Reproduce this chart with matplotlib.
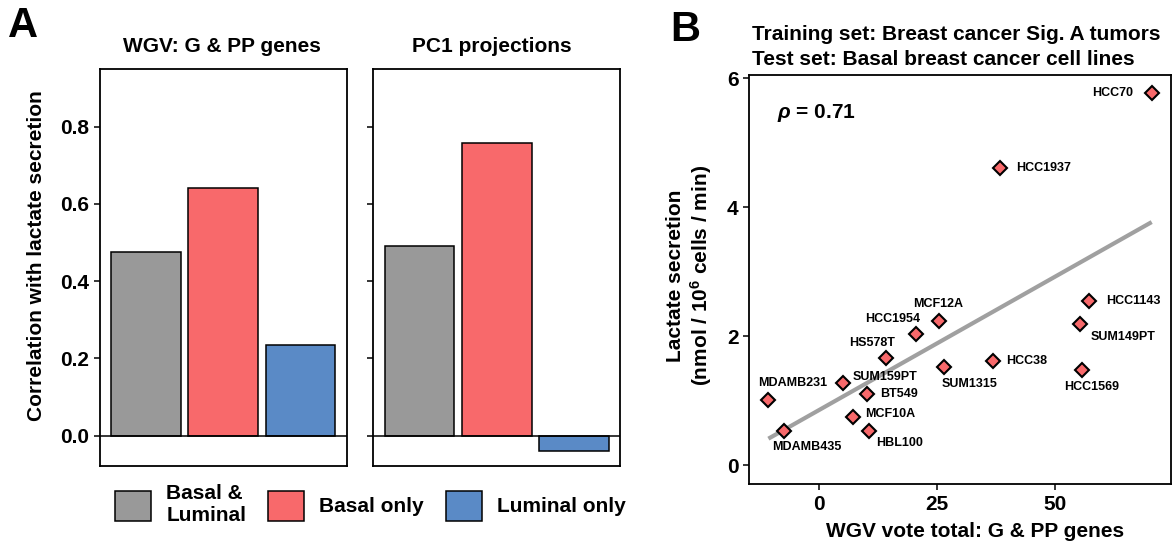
import numpy as np
import matplotlib
matplotlib.use("Agg")
import matplotlib.pyplot as plt
from matplotlib.patches import Patch

# ─── Data ─────────────────────────────────────────────────────────────────────

groups       = ["Basal &\nLuminal", "Basal only", "Luminal only"]
group_colors = ["#999999", "#F8696B", "#5A8AC6"]
wgv_corr     = [0.475, 0.642, 0.235]
pc1_corr     = [0.492, 0.758, -0.040]

cell_lines = ["HCC70", "HCC1937", "HCC1143", "SUM149PT", "HCC1569", "HCC38",
              "SUM1315", "MCF12A", "HCC1954", "HS578T", "SUM159PT", "BT549",
              "MCF10A", "HBL100", "MDAMB231", "MDAMB435"]
vote_total = [70.4, 38.3, 57.1, 55.3, 55.6, 36.8,
              26.4, 25.4, 20.5, 14.2, 5.1, 10.1,
              7.2, 10.6, -10.7, -7.4]
lactate    = [5.765, 4.61, 2.55, 2.19, 1.477, 1.61,
              1.52, 2.24, 2.035, 1.66, 1.27, 1.105,
              0.744, 0.536, 1.012, 0.536]
rho_text = r"$\rho$ = 0.71"

# label offsets in pixels (dx, dy, ha)
label_offsets = [(-19, 0, "right"), (16, 0, "left"), (17, 0, "left"), (10, -13, "left"),
                 (10, -17, "center"), (13, 0, "left"), (26, -17, "center"), (-1, 17, "center"),
                 (4, 15, "right"), (-14, 15, "center"), (10, 6, "left"), (13, 0, "left"),
                 (12, 3, "left"), (7, -12, "left"), (24, 17, "center"), (23, -16, "center")]

# ─── Style ────────────────────────────────────────────────────────────────────

plt.rcParams["font.family"] = ["Liberation Sans", "DejaVu Sans"]
plt.rcParams["font.weight"] = "bold"
plt.rcParams["mathtext.fontset"] = "custom"
plt.rcParams["mathtext.rm"] = "Liberation Sans:bold"
plt.rcParams["mathtext.it"] = "Liberation Sans:italic:bold"
plt.rcParams["mathtext.bf"] = "Liberation Sans:bold"

FS = 15
LW = 1.1

fig = plt.figure(figsize=(11.74, 5.45), dpi=100)

axA1 = fig.add_axes([0.0848, 0.1444, 0.2105, 0.7283])
axA2 = fig.add_axes([0.3177, 0.1444, 0.2108, 0.7283])
axB  = fig.add_axes([0.638, 0.1112, 0.3595, 0.7517])

# ─── Panel A ──────────────────────────────────────────────────────────────────

x = np.arange(1, len(groups) + 1)
for ax, vals, title, tx in [(axA1, wgv_corr, "WGV: G & PP genes", 0.495),
                            (axA2, pc1_corr, "PC1 projections", 0.48)]:
    ax.bar(x, vals, width=0.9, color=group_colors, edgecolor="black",
           linewidth=LW, zorder=2)
    ax.axhline(0, color="black", lw=LW, zorder=3)
    ax.set_xlim(0.4, 3.6)
    ax.set_ylim(-0.079, 0.948)
    ax.set_yticks([0.0, 0.2, 0.4, 0.6, 0.8])
    ax.set_xticks([])
    ax.tick_params(axis="y", direction="out", length=4, width=LW, pad=3.5,
                   labelsize=FS)
    for s in ax.spines.values():
        s.set_linewidth(1.3)
    ax.text(tx, 1.058, title, transform=ax.transAxes, ha="center", va="center",
            fontsize=FS, fontweight="bold")

axA1.set_yticklabels([f"{v:.1f}" for v in [0.0, 0.2, 0.4, 0.6, 0.8]])
axA2.set_yticklabels([])
axA1.set_ylabel("Correlation with lactate secretion", fontsize=FS,
                fontweight="bold", va="center")
axA1.yaxis.set_label_coords(-0.254, 0.531)

handles = [Patch(facecolor=c, edgecolor="black", linewidth=LW) for c in group_colors]
fig.legend(handles, groups, ncol=3, loc="center",
           bbox_to_anchor=(0.3155, 0.0734), frameon=False, fontsize=FS,
           handlelength=1.745, handleheight=1.885, handletextpad=0.72,
           columnspacing=1.05, borderpad=0, borderaxespad=0)

# ─── Panel B ──────────────────────────────────────────────────────────────────

xv = np.array(vote_total)
yv = np.array(lactate)
slope, intercept = np.polyfit(xv, yv, 1)
fit_x = np.array([xv.min(), xv.max()])
axB.plot(fit_x, slope * fit_x + intercept, color="#A0A0A0", lw=3.0,
         solid_capstyle="butt", zorder=2)

axB.plot(xv, yv, linestyle="none", marker="D", markersize=7.6,
         markerfacecolor="#F8696B", markeredgecolor="black",
         markeredgewidth=1.5, zorder=3)

for name, px, py, (dx, dy, ha) in zip(cell_lines, xv, yv, label_offsets):
    axB.annotate(name, (px, py), xytext=(dx, dy), textcoords="offset pixels",
                 ha=ha, va="center", fontsize=9, fontweight="bold")

axB.text(0.067, 0.906, rho_text, transform=axB.transAxes, ha="left",
         va="center", fontsize=FS)

axB.set_xlim(-14.8, 74.5)
axB.set_ylim(-0.296, 6.053)
axB.set_xticks([0, 25, 50])
axB.set_yticks([0, 2, 4, 6])
axB.tick_params(direction="out", length=4, width=LW, pad=3.5, labelsize=FS)
for s in axB.spines.values():
    s.set_linewidth(1.3)

axB.set_xlabel("WGV vote total: G & PP genes", fontsize=FS, fontweight="bold",
               va="center")
axB.xaxis.set_label_coords(0.535, -0.114)
axB.set_ylabel("Lactate secretion\n(nmol / 10$^{6}$ cells / min)", fontsize=FS,
               fontweight="bold", va="center")
axB.yaxis.set_label_coords(-0.140, 0.51)

axB.text(0.006, 1.0976, "Training set: Breast cancer Sig. A tumors",
         transform=axB.transAxes, ha="left", va="center", fontsize=FS)
axB.text(0.006, 1.0366, "Test set: Basal breast cancer cell lines",
         transform=axB.transAxes, ha="left", va="center", fontsize=FS)

# ─── Panel letters ────────────────────────────────────────────────────────────

fig.text(0.0068, 0.9327, "A", fontsize=30, fontweight="bold", va="baseline")
fig.text(0.5707, 0.9253, "B", fontsize=30, fontweight="bold", va="baseline")

fig.savefig("out.png", dpi=100)
